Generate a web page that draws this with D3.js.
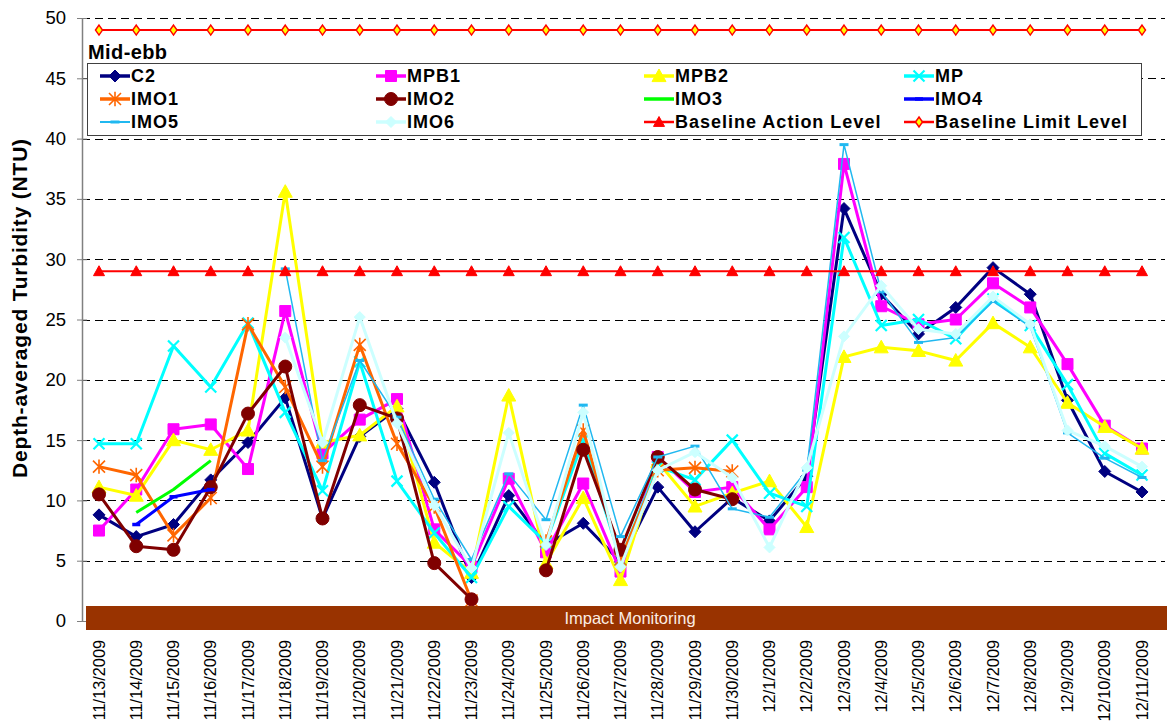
<!DOCTYPE html>
<html><head><meta charset="utf-8">
<script src="https://cdn.jsdelivr.net/npm/d3@7"></script>
<style>body{margin:0;background:#fff}svg{display:block;font-family:Arial,"Liberation Sans",sans-serif}</style>
</head><body><svg id="c" width="1167" height="721"></svg>
<script>
const dates = ["11/13/2009","11/14/2009","11/15/2009","11/16/2009","11/17/2009","11/18/2009","11/19/2009","11/20/2009","11/21/2009","11/22/2009","11/23/2009","11/24/2009","11/25/2009","11/26/2009","11/27/2009","11/28/2009","11/29/2009","11/30/2009","12/1/2009","12/2/2009","12/3/2009","12/4/2009","12/5/2009","12/6/2009","12/7/2009","12/8/2009","12/9/2009","12/10/2009","12/11/2009"];
const yTicks = [0,5,10,15,20,25,30,35,40,45,50];
const c2   = [8.8,7.0,8.0,11.7,14.8,18.5,8.5,15.3,17.6,11.5,3.6,10.4,6.3,8.1,4.9,11.1,7.4,10.2,8.3,12.0,34.2,27.1,23.8,26.0,29.3,27.1,18.3,12.4,10.7];
const mpb1 = [7.5,10.9,15.9,16.3,12.6,25.7,13.9,16.7,18.4,7.6,4.5,11.8,5.7,11.4,4.1,13.6,10.7,11.1,7.6,11.1,37.9,26.1,24.6,25.0,28.0,26.0,21.3,16.2,14.3];
const mpb2 = [11.1,10.4,15.0,14.2,15.8,35.6,14.8,15.4,17.8,6.5,4.0,18.7,4.8,10.2,3.4,13.2,9.5,10.6,11.6,7.8,21.9,22.7,22.4,21.6,24.7,22.7,18.1,16.1,14.3];
const mp   = [14.7,14.7,22.8,19.4,24.7,17.3,10.8,21.5,11.6,7.3,3.6,9.5,6.5,15.0,5.1,12.8,11.7,15.0,10.6,9.5,31.8,24.5,25.0,23.4,26.7,24.5,19.6,13.9,12.1];
const imo1 = [12.8,12.1,7.1,10.2,24.6,19.4,12.8,22.9,14.7,9.5,1.7,null,6.6,15.8,5.1,12.5,12.7,12.4,null,null,null,null,null,null,null,null,null,null,null];
const imo2 = [10.5,6.2,5.9,11.1,17.2,21.1,8.5,17.9,16.8,4.8,1.8,null,4.2,14.2,5.9,13.6,10.9,10.1,null,null,null,null,null,null,null,null,null,null,null];
const imo3 = [null,9.0,10.9,13.3,null,null,null,null,null,null,null,null,null,null,null,null,null,null,null,null,null,null,null,null,null,null,null,null,null];
const imo4 = [null,8.0,10.3,10.9,null,null,null,null,null,null,null,null,null,null,null,null,null,null,null,null,null,null,null,null,null,null,null,null,null];
const imo5 = [null,null,null,null,null,29.2,13.3,21.6,16.9,10.1,5.1,12.2,8.4,17.9,7.0,13.6,14.5,9.3,8.6,12.5,39.5,27.3,23.1,23.5,26.5,24.4,15.6,13.5,11.9];
const imo6 = [null,null,null,null,null,23.5,14.8,25.2,16.4,9.6,4.4,15.6,6.3,17.3,4.5,12.5,14.0,11.9,6.1,12.7,23.6,27.8,24.2,23.8,26.9,24.6,15.8,14.5,12.8];
const actionLevel = [29,29,29,29,29,29,29,29,29,29,29,29,29,29,29,29,29,29,29,29,29,29,29,29,29,29,29,29,29];
const limitLevel  = [49,49,49,49,49,49,49,49,49,49,49,49,49,49,49,49,49,49,49,49,49,49,49,49,49,49,49,49,49];

const series = [
 {name:"C2", values:c2, color:"#000080", w:3, m:"diamond", r:6, fill:"#000080"},
 {name:"MPB1", values:mpb1, color:"#FF00FF", w:3, m:"square", r:5.5, fill:"#FF00FF"},
 {name:"MPB2", values:mpb2, color:"#FFFF00", w:3, m:"triangle", r:7, fill:"#FFFF00"},
 {name:"MP", values:mp, color:"#00FFFF", w:3, m:"x", r:5.5, fill:"none", mw:2.2},
 {name:"IMO1", values:imo1, color:"#FF6600", w:3, m:"star", r:6, fill:"none", mw:1.6},
 {name:"IMO2", values:imo2, color:"#800000", w:3, m:"circle", r:6.5, fill:"#800000"},
 {name:"IMO3", values:imo3, color:"#00FF00", w:3, m:null},
 {name:"IMO4", values:imo4, color:"#0000FF", w:3, m:"dash", r:4, fill:"none", mw:3.5},
 {name:"IMO5", values:imo5, color:"#20B8F0", w:1.5, m:"dash", r:4.5, fill:"none", mw:3},
 {name:"IMO6", values:imo6, color:"#CCFFFF", w:3, m:"diamond", r:5.5, fill:"#CCFFFF"},
 {name:"Baseline Action Level", values:actionLevel, color:"#FF0000", w:2, m:"triangle", r:5.5, fill:"#FF0000"},
 {name:"Baseline Limit Level", values:limitLevel, color:"#FF0000", w:2, m:"ldiamond", r:5, fill:"#FFFF00", mstroke:"#FF0000", mw:1.5}
];

const sym = {
  diamond: r => `M0,${-r}L${r},0L0,${r}L${-r},0Z`,
  ldiamond: r => `M0,${-r}L${r*0.7},0L0,${r}L${-r*0.7},0Z`,
  square: r => `M${-r},${-r}H${r}V${r}H${-r}Z`,
  triangle: r => `M0,${-r}L${r},${r*0.8}L${-r},${r*0.8}Z`,
  circle: r => `M${r},0A${r},${r} 0 1,1 ${-r},0A${r},${r} 0 1,1 ${r},0Z`,
  x: r => `M${-r},${-r}L${r},${r}M${-r},${r}L${r},${-r}`,
  star: r => `M${-r},${-r}L${r},${r}M${-r},${r}L${r},${-r}M0,${-r*1.2}L0,${r*1.2}`,
  dash: r => `M${-r},0H${r}`
};

const svg = d3.select("#c");
const x = d3.scalePoint().domain(dates).range([99, 1142]);
const y = d3.scaleLinear().domain([0, 50]).range([621, 18]);

// gridlines
svg.append("g").selectAll("line").data(yTicks.filter(t => t > 0)).join("line")
  .attr("x1", 82).attr("x2", 1165)
  .attr("y1", d => Math.round(y(d)) + 0.5).attr("y2", d => Math.round(y(d)) + 0.5)
  .attr("stroke", "#000").attr("stroke-width", 1).attr("stroke-dasharray", "8,5");

// y axis
const yAxis = svg.append("g").attr("transform", "translate(82,0)")
  .call(d3.axisLeft(y).tickValues(yTicks).tickSizeInner(5).tickSizeOuter(0).tickPadding(11));
yAxis.select(".domain").attr("stroke", "#808080").attr("stroke-width", 1.5);
yAxis.selectAll(".tick line").attr("stroke", "#808080").attr("x2", 5).attr("x1", -5);
yAxis.selectAll(".tick text").attr("font-size", 18.5).attr("fill", "#000").attr("font-family", "Arial, 'Liberation Sans', sans-serif");

// series
const line = d3.line().defined(d => d != null).x((d, i) => x(dates[i])).y(d => y(d));
function drawSeries(g, s) {
  const idx = s.values.map((v, i) => i);
  g.append("path").attr("d", line(s.values)).attr("fill", "none")
    .attr("stroke", s.color).attr("stroke-width", s.w).attr("stroke-linejoin", "round");
  if (s.m) {
    g.append("g").selectAll("path").data(idx.filter(i => s.values[i] != null)).join("path")
      .attr("transform", i => `translate(${x(dates[i])},${y(s.values[i])})`)
      .attr("d", sym[s.m](s.r))
      .attr("fill", s.fill)
      .attr("stroke", s.mstroke || s.color)
      .attr("stroke-width", s.mw || 1);
  }
}
const plot = svg.append("g");
series.forEach(s => drawSeries(plot.append("g"), s));

// impact monitoring bar
svg.append("rect").attr("x", 86).attr("y", 606).attr("width", 1081).attr("height", 24).attr("fill", "#993300");
svg.append("text").attr("x", 630).attr("y", 618).attr("dy", "0.35em").attr("text-anchor", "middle")
  .attr("font-size", 16.5).attr("fill", "#FBEDE4").text("Impact Monitoring");

// x labels
svg.append("g").selectAll("text").data(dates).join("text")
  .attr("transform", d => `translate(${x(d)},640) rotate(-90)`)
  .attr("dy", "0.35em").attr("text-anchor", "end").attr("font-size", 16.3).attr("fill", "#000")
  .text(d => d);

// y title
svg.append("text").attr("transform", "translate(20,308) rotate(-90)").attr("dy", "0.35em")
  .attr("text-anchor", "middle").attr("font-weight", "bold").attr("font-size", 21).attr("letter-spacing", 0.8)
  .text("Depth-averaged Turbidity (NTU)");

// Mid-ebb
svg.append("text").attr("x", 88).attr("y", 59).attr("font-weight", "bold").attr("font-size", 20)
  .attr("letter-spacing", 0.4).text("Mid-ebb");

// legend
const leg = svg.append("g");
leg.append("rect").attr("x", 87.5).attr("y", 63.5).attr("width", 1054).attr("height", 72)
  .attr("fill", "#fff").attr("stroke", "#404040").attr("stroke-width", 1);
const colX = [131, 407, 675, 935];
const rowY = [76, 99, 122];
series.forEach((s, i) => {
  const tx = colX[i % 4], ty = rowY[Math.floor(i / 4)];
  const g = leg.append("g");
  g.append("line").attr("x1", tx - 31).attr("x2", tx - 1).attr("y1", ty).attr("y2", ty)
    .attr("stroke", s.color).attr("stroke-width", s.w + 0.5);
  if (s.m) g.append("path").attr("transform", `translate(${tx - 16},${ty})`).attr("d", sym[s.m](s.r))
    .attr("fill", s.fill).attr("stroke", s.mstroke || s.color).attr("stroke-width", s.mw || 1);
  g.append("text").attr("x", tx).attr("y", ty).attr("dy", "0.36em").attr("font-weight", "bold")
    .attr("font-size", 18).attr("letter-spacing", 1).text(s.name);
});
</script></body></html>
